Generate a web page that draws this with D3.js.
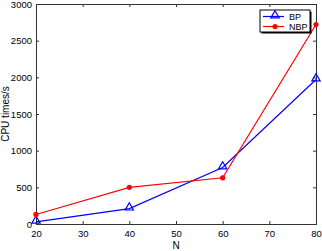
<!DOCTYPE html>
<html>
<head>
<meta charset="utf-8">
<script src="https://cdn.jsdelivr.net/npm/d3@7"></script>
<style>
  body { margin: 0; background: #fff; }
  text { font-family: "Liberation Sans", Arial, sans-serif; }
</style>
</head>
<body>
<div id="chart"></div>
<script>
// data
let nValues = [20, 40, 60, 80];
let bpTimes = [30, 210, 770, 1970];
let nbpTimes = [130, 500, 630, 2720];
let xTicks = [20, 30, 40, 50, 60, 70, 80];
let yTicks = [0, 500, 1000, 1500, 2000, 2500, 3000];
let seriesNames = ["BP", "NBP"];
let seriesColors = ["#0000ff", "#ff0000"];

// dimensions
let margin = { top: 4, right: 6, bottom: 27, left: 36 },
  width = 322 - margin.left - margin.right,
  height = 251 - margin.top - margin.bottom;

let root = d3.select("#chart")
  .append("svg")
  .attr("width", 322)
  .attr("height", 251);

let svg = root.append("g")
  .attr("transform", "translate(" + margin.left + "," + margin.top + ")");

let x = d3.scaleLinear().domain([20, 80]).range([0, width]);
let y = d3.scaleLinear().domain([0, 3000]).range([height, 0]);

let axisColor = "#333";

// bottom axis (ticks inward)
let xAxis = svg.append("g")
  .attr("transform", "translate(0," + height + ")")
  .call(d3.axisBottom(x).tickValues(xTicks).tickSize(-3).tickPadding(6).tickFormat(d3.format("d")));
// left axis
let yAxis = svg.append("g")
  .call(d3.axisLeft(y).tickValues(yTicks).tickSize(-3).tickPadding(4).tickFormat(d3.format("d")));
// top and right mirror ticks
let xTop = svg.append("g")
  .call(d3.axisTop(x).tickValues(xTicks).tickSize(-3).tickFormat(""));
let yRight = svg.append("g")
  .attr("transform", "translate(" + width + ",0)")
  .call(d3.axisRight(y).tickValues(yTicks).tickSize(-3).tickFormat(""));

[xAxis, yAxis, xTop, yRight].forEach(function (g) {
  g.selectAll("path").attr("stroke", axisColor).attr("stroke-width", 1);
  g.selectAll("line").attr("stroke", axisColor);
  g.selectAll("text").attr("fill", "#000").style("font-size", "9.5px");
});

// axis labels
svg.append("text")
  .attr("x", width / 2)
  .attr("y", height + 25)
  .attr("text-anchor", "middle")
  .style("font-size", "10px")
  .text("N");

root.append("text")
  .attr("transform", "translate(9," + (margin.top + height / 2) + ") rotate(-90)")
  .attr("text-anchor", "middle")
  .style("font-size", "10px")
  .text("CPU times/s");

// lines
let allSeries = [bpTimes, nbpTimes];
let line = d3.line()
  .x(function (d, i) { return x(nValues[i]); })
  .y(function (d) { return y(d); });

let triangle = d3.symbol().type(d3.symbolTriangle).size(30);

allSeries.forEach(function (s, k) {
  svg.append("path")
    .datum(s)
    .attr("fill", "none")
    .attr("stroke", seriesColors[k])
    .attr("stroke-width", 1.2)
    .attr("d", line);

  if (k === 0) {
    svg.selectAll(".bp-mark")
      .data(s)
      .enter()
      .append("path")
      .attr("class", "bp-mark")
      .attr("d", triangle)
      .attr("transform", function (d, i) { return "translate(" + x(nValues[i]) + "," + (y(d) - 1) + ")"; })
      .attr("fill", "none")
      .attr("stroke", seriesColors[k])
      .attr("stroke-width", 1.2);
  } else {
    svg.selectAll(".nbp-mark")
      .data(s)
      .enter()
      .append("circle")
      .attr("class", "nbp-mark")
      .attr("cx", function (d, i) { return x(nValues[i]); })
      .attr("cy", function (d) { return y(d); })
      .attr("r", 2.6)
      .attr("fill", seriesColors[k]);
  }
});

// legend
let legend = root.append("g").attr("transform", "translate(260,10)");
legend.append("rect")
  .attr("x", 1.5).attr("y", 1.5)
  .attr("width", 50).attr("height", 22)
  .attr("fill", "#000");
legend.append("rect")
  .attr("width", 50).attr("height", 22)
  .attr("fill", "#fff")
  .attr("stroke", "#000")
  .attr("stroke-width", 1);

seriesNames.forEach(function (name, k) {
  let ly = 6.5 + k * 10;
  legend.append("line")
    .attr("x1", 3).attr("x2", 24)
    .attr("y1", ly).attr("y2", ly)
    .attr("stroke", seriesColors[k])
    .attr("stroke-width", 1.2);
  if (k === 0) {
    legend.append("path")
      .attr("d", triangle)
      .attr("transform", "translate(15," + (ly - 1) + ")")
      .attr("fill", "none")
      .attr("stroke", seriesColors[k])
      .attr("stroke-width", 1.2);
  } else {
    legend.append("circle")
      .attr("cx", 15).attr("cy", ly)
      .attr("r", 2.6)
      .attr("fill", seriesColors[k]);
  }
  legend.append("text")
    .attr("x", 29)
    .attr("y", ly + 3.5)
    .style("font-size", "9px")
    .text(name);
});
</script>
</body>
</html>
